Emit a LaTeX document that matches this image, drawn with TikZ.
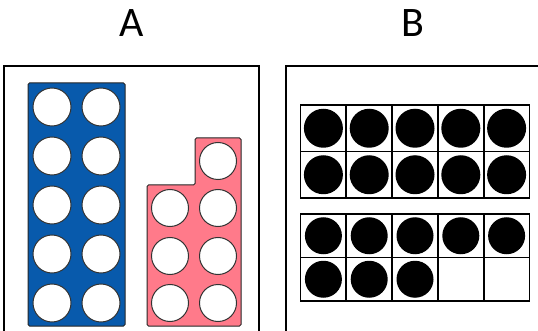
\documentclass[tikz,border=0pt]{standalone}
\usepackage{fontspec}
\setsansfont{Carlito}
\definecolor{rodblue}{RGB}{8,90,172}
\definecolor{rodpink}{RGB}{255,122,138}
\tikzset{
  hole/.style={draw=black!80, fill=white, line width=1pt},
  counter/.style={fill=black},
  cell/.style={draw=black, line width=1.8pt},
  panel/.style={draw=black, line width=2pt},
  heading/.style={font=\sffamily\fontsize{42}{42}\selectfont},
}
\begin{document}
\begin{tikzpicture}[x=1pt,y=-1pt]
			\useasboundingbox (0,0) rectangle (538,331);
			
			\node[heading] (labA) at (132,23.5) {A};
			\node[heading] (labB) at (413,23.5) {B};
			\draw[panel] (4,345) -- (4,66) -- (259,66) -- (259,345);
			\draw[panel] (286,345) -- (286,66) -- (545,66);
			
			% rods
			\draw[fill=rodblue, draw=black!85, line width=1pt, rounded corners=1.5pt] (28,83) rectangle (125,326);
			\foreach \y in {107,156,205,254,303}
				\foreach \x in {52,101}
					\draw[hole] (\x,\y) circle[radius=19pt];
			
			\draw[fill=rodpink, draw=black!85, line width=1pt, rounded corners=1.5pt] (147,326) -- (147,185) -- (195,185) -- (195,138) -- (241,138) -- (241,326) -- cycle;
			\draw[hole] (218,161) circle[radius=18.5pt];
			\foreach \y in {208,256,303}
				\foreach \x in {170,218}
					\draw[hole] (\x,\y) circle[radius=18.5pt];
			
			% ten frames
			\foreach \i in {0,...,4} {
				\foreach \j in {0,1} {
					\draw[cell] (300.5+45.8*\i,105+46.5*\j) rectangle +(45.8,46.5);
					\fill[counter] (323.4+45.8*\i,128.25+46.5*\j) circle[radius=19.5pt];
					\draw[cell] (300.5+45.8*\i,214+43.5*\j) rectangle +(45.8,43.5);
				}
				\fill[counter] (323.4+45.8*\i,235.75) circle[radius=18.5pt];
			}
			\foreach \i in {0,1,2}
				\fill[counter] (323.4+45.8*\i,279.25) circle[radius=18.5pt];
\end{tikzpicture}
\end{document}
